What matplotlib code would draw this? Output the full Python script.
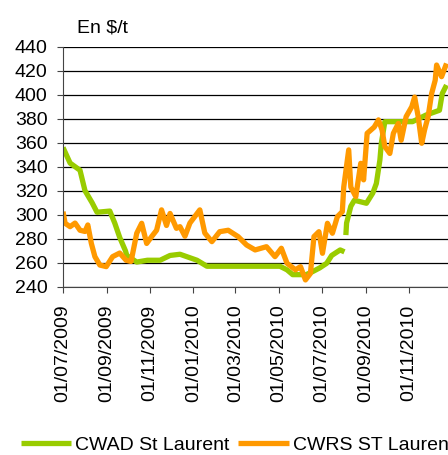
import numpy as np
import pandas as pd
import matplotlib.pyplot as plt
import matplotlib.dates as mdates

plt.rcParams['font.family'] = ['Liberation Sans', 'DejaVu Sans']

# CWAD St Laurent (NaN = break in the series)
cwad_dates = [
    "2009-07-01", "2009-07-11", "2009-07-25", "2009-08-01", "2009-08-11",
    "2009-08-18", "2009-09-05", "2009-09-12", "2009-09-19", "2009-09-27",
    "2009-09-29", "2009-10-13", "2009-10-28", "2009-11-15", "2009-11-29",
    "2009-12-13", "2010-01-06", "2010-01-20", "2010-05-03", "2010-05-13",
    "2010-05-21", "2010-06-09", "2010-06-18", "2010-06-28", "2010-07-08",
    "2010-07-15", "2010-07-27", "2010-08-02", "2010-08-03", "2010-08-04",
    "2010-08-05", "2010-08-11", "2010-08-16", "2010-09-02", "2010-09-11",
    "2010-09-16", "2010-09-21", "2010-09-23", "2010-09-28", "2010-11-06",
    "2010-11-25", "2010-12-14", "2010-12-18", "2010-12-24",
]
cwad_values = [
    356, 343, 337, 320, 310,
    302, 303, 293, 281, 270,
    266, 260.5, 262, 262, 266,
    267, 262, 257, 257, 254,
    250, 250, 252.5, 255.6, 259.5,
    266, 270.6, 269, np.nan, 283,
    293, 307, 312, 309.5, 318,
    326, 345.6, 359.5, 377.5, 377.5,
    383, 387, 401, 408,
]

# CWRS ST Laurent
cwrs_dates = [
    "2009-07-01", "2009-07-04", "2009-07-11", "2009-07-18", "2009-07-25",
    "2009-08-01", "2009-08-05", "2009-08-10", "2009-08-15", "2009-08-22",
    "2009-08-31", "2009-09-09", "2009-09-19", "2009-09-28", "2009-10-05",
    "2009-10-13", "2009-10-20", "2009-10-27", "2009-11-03", "2009-11-10",
    "2009-11-17", "2009-11-24", "2009-11-29", "2009-12-08", "2009-12-13",
    "2009-12-20", "2009-12-27", "2010-01-10", "2010-01-17", "2010-01-27",
    "2010-02-07", "2010-02-19", "2010-03-05", "2010-03-17", "2010-03-29",
    "2010-04-14", "2010-04-26", "2010-05-05", "2010-05-13", "2010-05-25",
    "2010-06-01", "2010-06-08", "2010-06-15", "2010-06-20", "2010-06-27",
    "2010-07-02", "2010-07-09", "2010-07-16", "2010-07-23", "2010-07-30",
    "2010-08-01", "2010-08-08", "2010-08-11", "2010-08-18", "2010-08-25",
    "2010-08-29", "2010-09-03", "2010-09-13", "2010-09-19", "2010-09-24",
    "2010-09-28", "2010-10-05", "2010-10-10", "2010-10-17", "2010-10-21",
    "2010-10-28", "2010-11-05", "2010-11-09", "2010-11-14", "2010-11-19",
    "2010-11-23", "2010-11-28", "2010-12-03", "2010-12-08", "2010-12-10",
    "2010-12-17", "2010-12-24",
]
cwrs_values = [
    302.5, 292.8, 290, 293, 287,
    286, 291.4, 276, 265, 258,
    256.7, 265, 268, 262, 261,
    284.5, 292.8, 276, 281.7, 287,
    304, 291, 301, 288.6, 290,
    282, 293, 304, 284.7, 277.5,
    285.8, 287, 281.7, 274.7, 270.6,
    273.3, 265, 272, 259.5, 254,
    256.7, 245.6, 251, 281.7, 285.8,
    267.8, 292.8, 284.5, 298.3, 302.5,
    323, 354, 323, 315, 342.8,
    329, 367.8, 373, 379, 370.6,
    356.7, 351, 367.8, 376, 362,
    381.7, 390, 398, 381.7, 359.5,
    370.6, 381.7, 401, 412, 424.7,
    415, 426,
]

y_ticks = list(range(240, 441, 20))
x_ticks = ["2009-07-01", "2009-09-01", "2009-11-01", "2010-01-01",
           "2010-03-01", "2010-05-01", "2010-07-01", "2010-09-01",
           "2010-11-01"]

green = "#99CC00"
orange = "#FF9900"

fig = plt.figure(figsize=(4.48, 4.55), dpi=100)
ax = fig.add_axes([63 / 448, 0.37, 388.5 / 448, 0.5274])

ax.plot(pd.to_datetime(cwad_dates), cwad_values, color=green, lw=3.8,
        label="CWAD St Laurent", solid_capstyle="butt")
ax.plot(pd.to_datetime(cwrs_dates), cwrs_values, color=orange, lw=3.8,
        label="CWRS ST Laurent", solid_capstyle="butt")

ax.set_ylim(240, 440)
ax.set_yticks(y_ticks)
ax.set_xlim(pd.Timestamp("2009-07-01"), pd.Timestamp("2010-12-31"))
ax.set_xticks(pd.to_datetime(x_ticks))
ax.xaxis.set_major_formatter(mdates.DateFormatter("%d/%m/%Y"))

ax.grid(axis="y", color="black", lw=0.9)
ax.set_axisbelow(True)
for side in ["top", "right"]:
    ax.spines[side].set_visible(False)
ax.spines["left"].set_color("#444444")
ax.spines["bottom"].set_color("#444444")

ax.tick_params(axis="y", labelsize=14, length=4, pad=7, color="#444444")
ax.tick_params(axis="x", labelsize=14, length=4, pad=9, color="#444444",
               labelrotation=90)

fig.text(77 / 448, 1 - 32 / 455, "En $/t", fontsize=14, va="baseline")

fig.legend(loc="center left", bbox_to_anchor=(3 / 448, 1 - 445 / 455),
           ncol=2, frameon=False, fontsize=14, handlelength=2.6,
           handletextpad=0.2, columnspacing=0.45)

fig.savefig("out.png", dpi=100)
